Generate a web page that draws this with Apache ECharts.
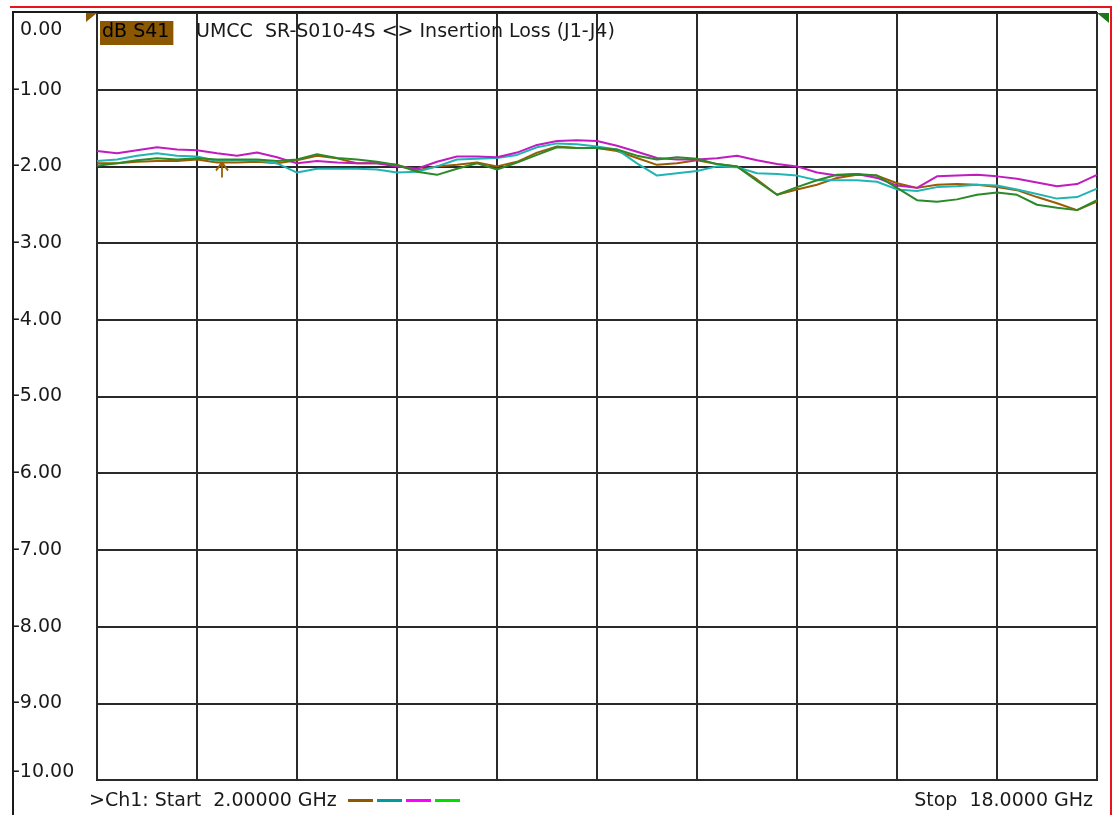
<!DOCTYPE html>
<html>
<head>
<meta charset="utf-8">
<title>UMCC SR-S010-4S Insertion Loss</title>
<script src="https://cdn.jsdelivr.net/npm/echarts@6/dist/echarts.min.js"></script>
<style>
  html, body { margin: 0; padding: 0; background: #ffffff; }
  #chart { width: 1115px; height: 815px; }
</style>
</head>
<body>
<div id="chart"></div>
<script>
// Sweep frequencies (GHz)
const freqGHz = [2.00, 2.32, 2.64, 2.96, 3.28, 3.60, 3.92, 4.24, 4.56, 4.88,
  5.20, 5.52, 5.84, 6.16, 6.48, 6.80, 7.12, 7.44, 7.76, 8.08,
  8.40, 8.72, 9.04, 9.36, 9.68, 10.00, 10.32, 10.64, 10.96, 11.28,
  11.60, 11.92, 12.24, 12.56, 12.88, 13.20, 13.52, 13.84, 14.16, 14.48,
  14.80, 15.12, 15.44, 15.76, 16.08, 16.40, 16.72, 17.04, 17.36, 17.68, 18.00];

// S41 insertion loss traces (dB)
const trcBrown = [-1.96, -1.96, -1.94, -1.93, -1.93, -1.91, -1.95, -1.95, -1.94, -1.96,
  -1.92, -1.86, -1.895, -1.96, -1.96, -1.98, -2.05, -2.00, -1.98, -1.95,
  -2.00, -1.94, -1.82, -1.74, -1.76, -1.76, -1.80, -1.89, -1.98, -1.96,
  -1.92, -1.97, -2.00, -2.17, -2.37, -2.30, -2.24, -2.15, -2.11, -2.12,
  -2.22, -2.28, -2.24, -2.23, -2.24, -2.27, -2.31, -2.40, -2.48, -2.57, -2.46];
const trcTeal = [-1.93, -1.91, -1.86, -1.83, -1.86, -1.87, -1.93, -1.92, -1.92, -1.96,
  -2.08, -2.03, -2.03, -2.03, -2.04, -2.08, -2.07, -2.00, -1.91, -1.90,
  -1.89, -1.85, -1.75, -1.70, -1.71, -1.74, -1.78, -1.96, -2.12, -2.09,
  -2.06, -2.00, -2.01, -2.09, -2.10, -2.12, -2.18, -2.18, -2.18, -2.20,
  -2.30, -2.32, -2.27, -2.26, -2.24, -2.25, -2.30, -2.36, -2.42, -2.40, -2.29];
const trcMagenta = [-1.80, -1.83, -1.79, -1.75, -1.78, -1.79, -1.83, -1.86, -1.82, -1.88,
  -1.96, -1.93, -1.95, -1.96, -1.96, -2.00, -2.03, -1.94, -1.87, -1.87,
  -1.88, -1.82, -1.72, -1.67, -1.66, -1.67, -1.73, -1.81, -1.89, -1.91,
  -1.91, -1.895, -1.86, -1.92, -1.97, -2.00, -2.08, -2.12, -2.10, -2.15,
  -2.25, -2.28, -2.13, -2.12, -2.11, -2.13, -2.16, -2.21, -2.26, -2.23, -2.11];
const trcGreen = [-1.99, -1.96, -1.92, -1.895, -1.91, -1.895, -1.91, -1.91, -1.91, -1.93,
  -1.91, -1.84, -1.89, -1.91, -1.94, -1.98, -2.07, -2.11, -2.03, -1.96,
  -2.04, -1.95, -1.85, -1.75, -1.76, -1.76, -1.78, -1.86, -1.91, -1.88,
  -1.90, -1.97, -2.00, -2.19, -2.37, -2.27, -2.18, -2.11, -2.10, -2.12,
  -2.28, -2.44, -2.46, -2.43, -2.37, -2.34, -2.37, -2.50, -2.54, -2.57, -2.44];

// Marker 1 on the brown trace
const markerFreq = 4.0;
const markerLevel = -1.95;

// Scale: 0 dB reference at top, 1 dB/div, 10 divisions
const yTickLabels = ['0.00', '-1.00', '-2.00', '-3.00', '-4.00', '-5.00',
  '-6.00', '-7.00', '-8.00', '-9.00', '-10.00'];
const traceNames = ['Trc1', 'Trc2', 'Trc3', 'Trc4'];
const traceTag = 'dB S41';
const measTitle = 'UMCC  SR-S010-4S <> Insertion Loss (J1-J4)';
const startLabel = '>Ch1: Start  2.00000 GHz';
const stopLabel = 'Stop  18.0000 GHz';

const FONT = 'DejaVu Sans';
const FS = 19;
const INK = '#1a1a1a';

const pairs = vals => freqGHz.map((f, i) => [f, vals[i]]);

const chart = echarts.init(document.getElementById('chart'), null, { renderer: 'canvas' });

const lineSeries = (name, vals, color, extra) => Object.assign({
  name: name,
  type: 'line',
  data: pairs(vals),
  showSymbol: false,
  symbol: 'none',
  smooth: false,
  animation: false,
  lineStyle: { color: color, width: 2 },
  itemStyle: { color: color },
  clip: true
}, extra || {});

const option = {
  backgroundColor: '#ffffff',
  animation: false,
  title: [
    {
      text: traceTag, left: 100, top: 21, padding: [2, 4, 3, 2],
      backgroundColor: '#8b5700',
      textStyle: { fontFamily: FONT, fontSize: FS, fontWeight: 'normal', color: '#000' }
    },
    {
      text: measTitle, left: 196, top: 22, padding: [1, 0, 1, 0],
      textStyle: { fontFamily: FONT, fontSize: FS, fontWeight: 'normal', color: INK }
    }
  ],
  legend: {
    left: 343, top: 794,
    icon: 'rect', itemWidth: 25, itemHeight: 3, itemGap: 4,
    selectedMode: false,
    formatter: () => '',
    textStyle: { fontSize: 1 },
    data: [
      { name: traceNames[0], itemStyle: { color: '#8b5a00' } },
      { name: traceNames[1], itemStyle: { color: '#009c9c' } },
      { name: traceNames[2], itemStyle: { color: '#ff00ff' } },
      { name: traceNames[3], itemStyle: { color: '#00dd00' } }
    ]
  },
  grid: {
    left: 97, right: 18, top: 13, bottom: 35,
    show: true, borderColor: '#1a1a1a', borderWidth: 2,
    backgroundColor: 'transparent'
  },
  xAxis: {
    type: 'value', min: 2, max: 18, interval: 1.6,
    axisLine: { show: false }, axisTick: { show: false },
    axisLabel: { show: false },
    splitLine: { show: true, lineStyle: { color: '#2a2a2a', width: 2 } }
  },
  yAxis: {
    type: 'value', min: -10, max: 0, interval: 1,
    axisLine: { show: false }, axisTick: { show: false },
    splitLine: { show: true, lineStyle: { color: '#2a2a2a', width: 2 } },
    axisLabel: {
      align: 'left', margin: 84,
      fontFamily: FONT, fontSize: FS, color: INK,
      formatter: v => {
        const i = Math.round(-v);
        const t = yTickLabels[i];
        if (i === 0) return '{top|' + t + '}';
        if (i === 10) return '{bot|' + t + '}';
        return '{n|' + t + '}';
      },
      rich: {
        top: { fontFamily: FONT, fontSize: FS, color: INK, padding: [34, 0, 0, 7] },
        bot: { fontFamily: FONT, fontSize: FS, color: INK, padding: [0, 0, 16, 0] },
        n: { fontFamily: FONT, fontSize: FS, color: INK }
      }
    }
  },
  graphic: [
    { type: 'polyline', silent: true, z: 100,
      shape: { points: [[10, 7], [1111, 7], [1111, 815]] },
      style: { stroke: '#e8141b', lineWidth: 2, fill: null } },
    { type: 'polyline', silent: true, z: 100,
      shape: { points: [[13, 815], [13, 12], [1097, 12]] },
      style: { stroke: '#1a1a1a', lineWidth: 2, fill: null } },
    { type: 'text', left: 89, top: 792, silent: true,
      style: { text: startLabel, font: FS + 'px "' + FONT + '"', fill: INK } },
    { type: 'text', right: 22, top: 792, silent: true,
      style: { text: stopLabel, font: FS + 'px "' + FONT + '"', fill: INK } }
  ],
  series: [
    lineSeries(traceNames[0], trcBrown, '#9a5c00', {
      markPoint: {
        silent: true, animation: false, label: { show: false },
        data: [
          { coord: [markerFreq, markerLevel],
            symbol: 'path://M6,0 L6,15 M6,0 L0,8 M6,0 L12,8',
            symbolSize: [12, 15], symbolOffset: [0, 7.5],
            itemStyle: { color: 'none', borderColor: '#9a5c00', borderWidth: 2 } },
          { coord: [2, 0],
            symbol: 'path://M0,0 L11,0 L0,9 Z',
            symbolSize: [11, 9], symbolOffset: [-5.5, 4.5],
            itemStyle: { color: '#8b5700', borderWidth: 0 } }
        ]
      }
    }),
    lineSeries(traceNames[1], trcTeal, '#22b4b4'),
    lineSeries(traceNames[2], trcMagenta, '#c01cc0'),
    lineSeries(traceNames[3], trcGreen, '#2a8a2a', {
      markPoint: {
        silent: true, animation: false, label: { show: false },
        data: [
          { coord: [18, 0],
            symbol: 'path://M0,0 L12,0 L12,10 Z',
            symbolSize: [12, 10], symbolOffset: [6, 5],
            itemStyle: { color: '#1a7a1a', borderWidth: 0 } }
        ]
      }
    })
  ]
};

chart.setOption(option);
</script>
</body>
</html>
